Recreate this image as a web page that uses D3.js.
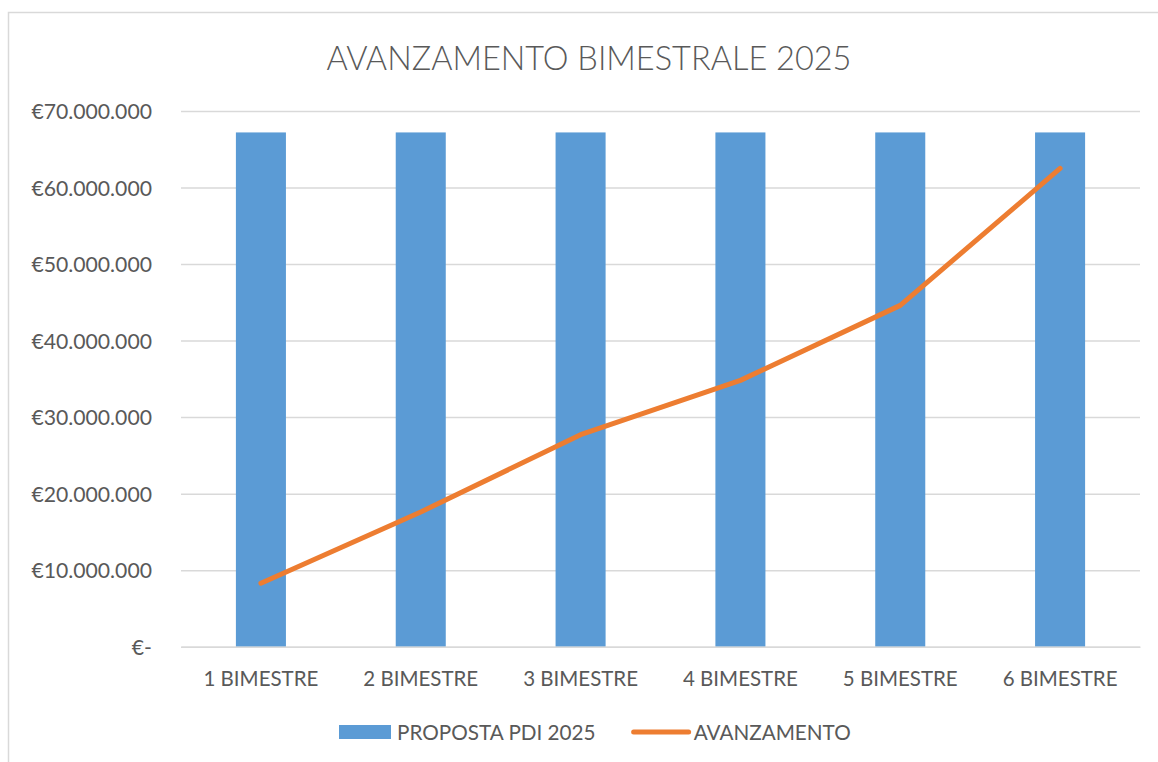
<!DOCTYPE html>
<html>
<head>
<meta charset="utf-8">
<script src="https://cdn.jsdelivr.net/npm/d3@7"></script>
<style>
  body { margin: 0; background: #fff; }
  svg text { font-family: Lato, "Liberation Sans", sans-serif; fill: #595959; }
</style>
</head>
<body>
<div id="chart"></div>
<script>
// Chart data
const categories = ["1 BIMESTRE", "2 BIMESTRE", "3 BIMESTRE", "4 BIMESTRE", "5 BIMESTRE", "6 BIMESTRE"];
const proposta = [67200000, 67200000, 67200000, 67200000, 67200000, 67200000];
const avanzamento = [8300000, 17600000, 27700000, 34800000, 44600000, 62500000];
const yTicks = [0, 10000000, 20000000, 30000000, 40000000, 50000000, 60000000, 70000000];
const seriesNames = ["PROPOSTA PDI 2025", "AVANZAMENTO"];
const chartTitle = "AVANZAMENTO BIMESTRALE 2025";

// Plot constants
const W = 1158, H = 762;
const PLOT = {LEFT: 181, RIGHT: 1140, TOP: 111, BOTTOM: 646.7};
const BAR_COLOR = "#5B9BD5";
const LINE_COLOR = "#ED7D31";
const GRID_COLOR = "#D9D9D9";
const BAR_RATIO = 0.313;

const it = d3.formatLocale({decimal: ",", thousands: ".", grouping: [3], currency: ["€", ""]});
const fmt = it.format(",.0f");
const euro = (d) => (d === 0 ? "€-" : "€" + fmt(d));

const svg = d3.select("#chart").append("svg").attr("width", W).attr("height", H);

// chart area border (extends past the right/bottom edge)
svg.append("rect")
  .attr("x", 8.5).attr("y", 12.5)
  .attr("width", 1170).attr("height", 770)
  .attr("fill", "#fff")
  .attr("stroke", GRID_COLOR)
  .attr("stroke-width", 1.5);

const x = d3.scaleBand().domain(categories).range([PLOT.LEFT, PLOT.RIGHT]).padding(0);
const y = d3.scaleLinear().domain([0, 70000000]).range([PLOT.BOTTOM, PLOT.TOP]);

// gridlines
svg.append("g")
  .attr("transform", "translate(" + PLOT.LEFT + ",0)")
  .call(d3.axisLeft(y).tickValues(yTicks).tickSize(-(PLOT.RIGHT - PLOT.LEFT)).tickFormat(""))
  .call((g) => g.select(".domain").remove())
  .call((g) => g.selectAll("line").attr("stroke", GRID_COLOR).attr("stroke-width", 1.5));

// y labels
svg.append("g")
  .attr("transform", "translate(152,0)")
  .call(d3.axisLeft(y).tickValues(yTicks).tickSize(0).tickPadding(0).tickFormat(euro))
  .call((g) => g.select(".domain").remove())
  .call((g) => g.selectAll("text").style("font-size", "21.2px").attr("dy", "0.36em"));

// bars
svg.append("g")
  .selectAll("rect")
  .data(proposta)
  .enter()
  .append("rect")
  .attr("x", (d, i) => x(categories[i]) + x.bandwidth() * (1 - BAR_RATIO) / 2)
  .attr("width", x.bandwidth() * BAR_RATIO)
  .attr("y", (d) => y(d))
  .attr("height", (d) => y(0) - y(d))
  .attr("fill", BAR_COLOR);

// x axis
svg.append("g")
  .attr("transform", "translate(0," + PLOT.BOTTOM + ")")
  .call(d3.axisBottom(x).tickSize(0).tickPadding(0))
  .call((g) => g.select(".domain").attr("stroke", GRID_COLOR).attr("stroke-width", 1.5))
  .call((g) => g.selectAll("text").style("font-size", "20.5px").attr("y", 39).attr("dy", 0));

// line
const line = d3.line()
  .x((d, i) => x(categories[i]) + x.bandwidth() / 2)
  .y((d) => y(d));

svg.append("path")
  .datum(avanzamento)
  .attr("d", line)
  .attr("fill", "none")
  .attr("stroke", LINE_COLOR)
  .attr("stroke-width", 5)
  .attr("stroke-linejoin", "round")
  .attr("stroke-linecap", "round");

// title
svg.append("text")
  .attr("x", 589).attr("y", 70)
  .attr("text-anchor", "middle")
  .style("font-size", "32.5px")
  .style("font-weight", 300)
  .text(chartTitle);

// legend
const legend = svg.append("g");
legend.append("rect")
  .attr("x", 339).attr("y", 725)
  .attr("width", 52).attr("height", 14)
  .attr("fill", BAR_COLOR);
const t1 = legend.append("text")
  .attr("x", 397).attr("y", 740)
  .style("font-size", "20.7px")
  .text(seriesNames[0]);
const lx = 397 + t1.node().getComputedTextLength() + 38;
legend.append("line")
  .attr("x1", lx).attr("x2", lx + 55)
  .attr("y1", 732).attr("y2", 732)
  .attr("stroke", LINE_COLOR)
  .attr("stroke-width", 5)
  .attr("stroke-linecap", "round");
legend.append("text")
  .attr("x", lx + 60).attr("y", 740)
  .style("font-size", "20.7px")
  .text(seriesNames[1]);
</script>
</body>
</html>
